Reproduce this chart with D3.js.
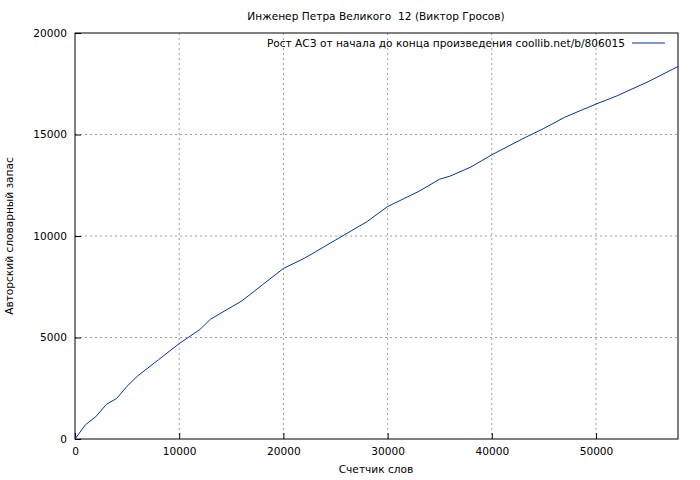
<html>
<script src="https://d3js.org/d3.v7.min.js"></script>
<style>
body{margin:0;background:#fff;}
text{font-family:"DejaVu Sans";font-size:10.6px;fill:#000;}
.grid line{stroke:#a0a0a0;stroke-dasharray:2,3;}
</style>
<body>
<svg width="700" height="480"></svg>
<script>
var words = [0,1000,2000,3000,4000,5000,6000,8000,10000,12000,13000,16000,18000,20000,22000,25000,28000,30000,33000,35000,36000,38000,40000,43000,45000,47000,50000,52000,55000,57870];
var vocab = [0,700,1100,1700,2000,2600,3100,3900,4700,5400,5900,6800,7600,8400,8900,9800,10700,11450,12200,12800,12950,13400,14000,14800,15300,15850,16500,16900,17600,18350];
var xTicks = [0,10000,20000,30000,40000,50000];
var yTicks = [0,5000,10000,15000,20000];
var title = "Инженер Петра Великого  12 (Виктор Гросов)";
var legend = "Рост АСЗ от начала до конца произведения coollib.net/b/806015";

var svg = d3.select("svg");
var L=75,R=678,T=33,B=439;
var x = d3.scaleLinear().domain([0,57870]).range([L,R]);
var y = d3.scaleLinear().domain([0,20000]).range([B,T]);

var g = svg.append("g").attr("class","grid");
g.selectAll(".gx").data(xTicks.slice(1)).enter().append("line")
  .attr("x1",x).attr("x2",x).attr("y1",T).attr("y2",B);
g.selectAll(".gy").data(yTicks.slice(1,-1)).enter().append("line")
  .attr("y1",y).attr("y2",y).attr("x1",L).attr("x2",R);

var xa = svg.append("g").attr("transform","translate(0,"+B+")")
  .call(d3.axisBottom(x).tickValues(xTicks).tickFormat(d3.format("d")).tickSizeInner(-6).tickSizeOuter(0).tickPadding(8));
var ya = svg.append("g").attr("transform","translate("+L+",0)")
  .call(d3.axisLeft(y).tickValues(yTicks).tickFormat(d3.format("d")).tickSizeInner(-6).tickSizeOuter(0).tickPadding(8));
[xa,ya].forEach(function(a){a.select(".domain").remove();a.selectAll("text").style("font-family","DejaVu Sans").style("font-size","10.6px");});

svg.append("rect").attr("x",L).attr("y",T).attr("width",R-L).attr("height",B-T)
  .attr("fill","none").attr("stroke","#000");

svg.append("path").datum(words.map(function(w,i){return [w,vocab[i]];}))
  .attr("fill","none").attr("stroke","#0033aa").attr("stroke-width",1)
  .attr("d",d3.line().x(function(d){return x(d[0]);}).y(function(d){return y(d[1]);}));

svg.append("text").attr("x",376).attr("y",20).attr("text-anchor","middle").style("white-space","pre").text(title);
svg.append("text").attr("x",376).attr("y",473).attr("text-anchor","middle").text("Счетчик слов");
svg.append("text").attr("transform","translate(13,236) rotate(-90)").attr("text-anchor","middle").text("Авторский словарный запас");
svg.append("text").attr("x",625).attr("y",47).attr("text-anchor","end").text(legend);
svg.append("line").attr("x1",632).attr("x2",665).attr("y1",43).attr("y2",43).attr("stroke","#0033aa");
</script>
</body>
</html>
